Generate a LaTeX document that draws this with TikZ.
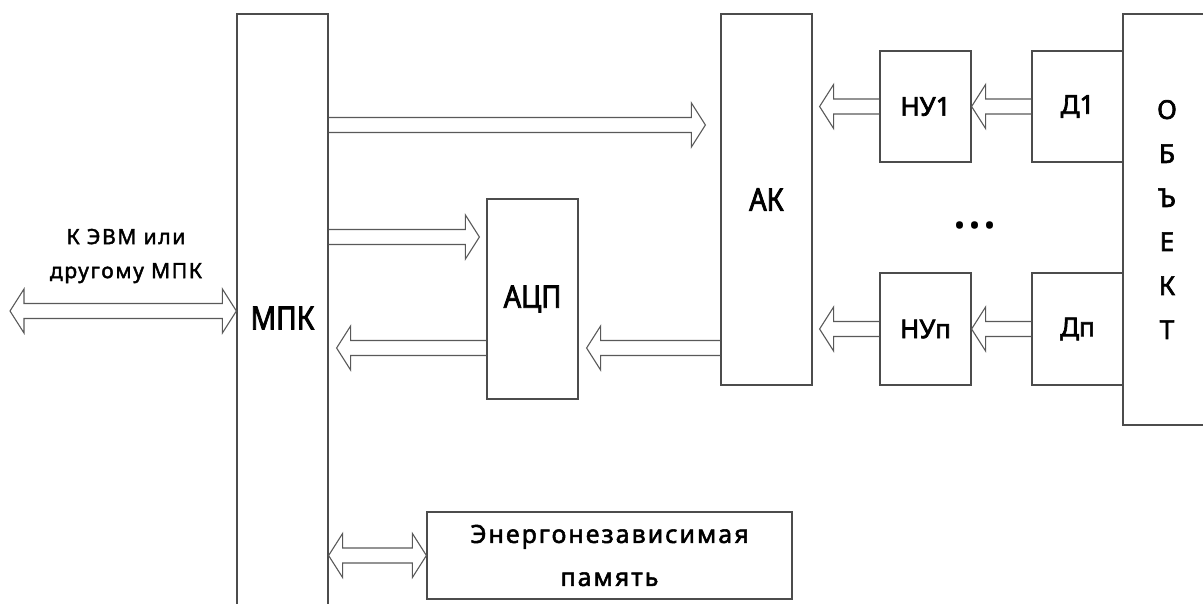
\documentclass[tikz,border=0pt]{standalone}
\usepackage{fontspec}
\setmainfont[Script=Cyrillic]{Noto Sans}
\newfontfamily\capfont[Script=Cyrillic,FakeStretch=0.88,FakeBold=2.5]{Noto Sans}
\newfontfamily\midfont[Script=Cyrillic,FakeBold=2.5]{Noto Sans}
\newfontfamily\lowfont[Script=Cyrillic,LetterSpace=8,FakeBold=2]{Noto Sans}
\usepackage{tikz}
\usetikzlibrary{calc}

\begin{document}
\begin{tikzpicture}[
  x=1pt, y=-1pt,
  every node/.style={align=center, inner sep=0pt},
  blk/.style  = {draw=black!70, line width=1.2pt, rectangle},
  big/.style  = {font=\capfont\fontsize{32}{32}\selectfont},
  lbl/.style  = {font=\capfont\fontsize{31}{31}\selectfont},
  mid/.style  = {font=\midfont\fontsize{26}{44}\selectfont},
  sml/.style  = {font=\lowfont\fontsize{21}{34}\selectfont},
  fat/.style  = {draw=black!65, line width=1.1pt, line join=miter,
    to path={let \p1=(\tikztostart), \p2=(\tikztotarget),
      \n1={(\x2-\x1)/abs(\x2-\x1)} in
      (\x1,{\y1+7.5pt}) -- ({\x2-14pt*\n1},{\y1+7.5pt})
      -- ({\x2-14pt*\n1},{\y1+22pt}) -- (\x2,\y1)
      -- ({\x2-14pt*\n1},{\y1-22pt}) -- ({\x2-14pt*\n1},{\y1-7.5pt})
      -- (\x1,{\y1-7.5pt})}},
  fatt/.style = {draw=black!65, line width=1.1pt, line join=miter,
    to path={let \p1=(\tikztostart), \p2=(\tikztotarget),
      \n1={(\x2-\x1)/abs(\x2-\x1)} in
      (\x1,\y1) -- ({\x1+14pt*\n1},{\y1+22pt}) -- ({\x1+14pt*\n1},{\y1+7.5pt})
      -- ({\x2-14pt*\n1},{\y1+7.5pt}) -- ({\x2-14pt*\n1},{\y1+22pt})
      -- (\x2,\y1) -- ({\x2-14pt*\n1},{\y1-22pt}) -- ({\x2-14pt*\n1},{\y1-7.5pt})
      -- ({\x1+14pt*\n1},{\y1-7.5pt}) -- ({\x1+14pt*\n1},{\y1-22pt}) -- cycle}},
]
\useasboundingbox (0,0) rectangle (1203,603);

% blocks
\node[blk, big, minimum width=91pt,  minimum height=608pt] (mpk) at (282.5,318) {МПК};
\node[blk, lbl, minimum width=91pt,  minimum height=371pt] (ak)  at (766.5,199.5) {АК};
\node[blk, lbl, minimum width=91pt,  minimum height=200pt] (adc) at (532.5,299) {АЦП};
\node[blk, mid, minimum width=91pt,  minimum height=111pt] (nu1) at (925.5,106.5) {НУ1};
\node[blk, mid, minimum width=91pt,  minimum height=111pt] (d1)  at (1077.5,106.5) {Д1};
\node[blk, mid, minimum width=91pt,  minimum height=112pt] (nun) at (925.5,329) {НУп};
\node[blk, mid, minimum width=91pt,  minimum height=112pt] (dn)  at (1077.5,329) {Дп};
\node[blk, minimum width=92pt,  minimum height=411pt] (obj) at (1169,219.5) {};
\node[mid] (objt) at (1167,219.5) {О\\Б\\Ъ\\Е\\К\\Т};
\node[font=\fontsize{56}{56}\selectfont] (dots) at (975,225) {\textbf{...}};
\node[blk, font=\lowfont\fontsize{25}{43}\selectfont,
           minimum width=365pt, minimum height=87pt] (mem) at (609.5,555.5)
     {Энергонезависимая\\память};
\node[sml] (evmt) at (126,256) {К ЭВМ или\\другому МПК};

% rows
\coordinate (evm) at (10,311);
\coordinate (r1)  at (0,125);
\coordinate (r2)  at (0,237);
\coordinate (r3)  at (0,348);

% buses
\draw[fatt] (evm) to (mpk.west |- evm);
\draw[fat] (mpk.east |- r1) to ($(ak.west |- r1)+(-15,0)$);
\draw[fat] (mpk.east |- r2) to ($(adc.west |- r2)+(-7,0)$);
\draw[fat] (adc.west |- r3) to ($(mpk.east |- r3)+(8,0)$);
\draw[fat] (ak.west |- r3)  to ($(adc.east |- r3)+(8,0)$);
\draw[fat] (nu1.west) to ($(nu1.west -| ak.east)+(7,0)$);
\draw[fat] (d1.west)  to (nu1.east);
\draw[fat] (nun.west) to ($(nun.west -| ak.east)+(7,0)$);
\draw[fat] (dn.west)  to (nun.east);
\draw[fatt] (mpk.east |- mem.west) to (mem.west);
\end{tikzpicture}
\end{document}
